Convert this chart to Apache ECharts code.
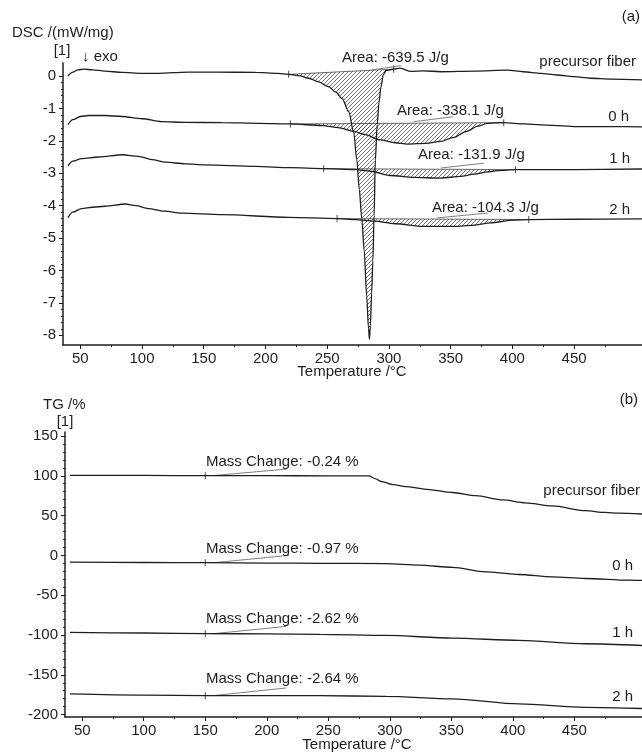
<!DOCTYPE html>
<html><head><meta charset="utf-8">
<script src="https://cdn.jsdelivr.net/npm/echarts@6/dist/echarts.min.js"></script>
<style>html,body{margin:0;padding:0;background:#fff}#c{width:642px;height:754px}</style>
</head><body><div id="c"></div><script>
// ---------- tick labels ----------
const xTickLabels = [50, 100, 150, 200, 250, 300, 350, 400, 450];
const xMinorTicks = [75, 125, 175, 225, 275, 325, 375, 425, 475];
const dscTickLabels = [-8, -7, -6, -5, -4, -3, -2, -1, 0];
const tgTickLabels = [-200, -150, -100, -50, 0, 50, 100, 150];

// ---------- DSC curves [temperature, mW/mg] ----------
const dscPrecursor = [[40,0.0],[44,0.12],[48,0.19],[53,0.21],[60,0.19],[70,0.15],[84,0.11],[100,0.08],[111,0.08],[125,0.1],[138,0.12],[160,0.12],[192,0.11],[210,0.08],[218.8,0.05],[228,0.0],[235,-0.07],[243,-0.18],[251,-0.33],[257,-0.5],[262,-0.69],[267.4,-1.1],[271.5,-1.75],[274,-2.6],[276,-3.5],[278,-4.4],[280,-5.4],[282,-6.8],[283.5,-7.8],[284.2,-8.12],[285,-7.7],[286,-6.7],[287,-5.7],[288,-4.3],[289,-2.6],[290.5,-1.5],[292,-0.8],[293.5,-0.35],[295.5,0.05],[298,0.17],[303.8,0.21],[309,0.24],[318,0.14],[328,0.16],[342,0.13],[369,0.15],[396,0.18],[409,0.13],[423,0.08],[436,0.03],[450,-0.02],[463,-0.07],[480,-0.1],[505,-0.12]];
const dsc0h = [[40,-1.5],[44,-1.35],[50,-1.25],[57,-1.22],[70,-1.22],[84,-1.25],[100,-1.32],[116,-1.41],[135,-1.43],[165,-1.44],[195,-1.46],[220.2,-1.48],[246,-1.53],[260,-1.6],[271.5,-1.71],[280,-1.8],[293,-1.97],[305,-2.06],[315,-2.1],[330,-2.08],[342,-2.02],[352,-1.9],[363,-1.71],[372,-1.55],[380,-1.46],[393,-1.44],[410,-1.48],[423,-1.51],[450,-1.56],[480,-1.56],[505,-1.57]];
const dsc1h = [[40,-2.77],[44,-2.63],[51,-2.55],[65,-2.5],[84,-2.43],[97,-2.48],[108,-2.58],[119,-2.66],[135,-2.71],[151,-2.74],[192,-2.79],[220,-2.83],[247.2,-2.86],[273,-2.89],[285,-2.94],[301,-3.07],[320,-3.13],[342,-3.15],[358,-3.1],[369,-3.03],[380,-2.96],[388,-2.92],[402.5,-2.89],[450,-2.89],[505,-2.87]];
const dsc2h = [[40,-4.37],[44,-4.2],[51,-4.09],[60,-4.05],[70,-4.02],[86.5,-3.95],[95,-4.0],[105,-4.09],[118,-4.17],[132,-4.23],[165,-4.28],[219,-4.36],[258,-4.4],[273,-4.43],[288,-4.48],[305,-4.56],[328,-4.64],[355,-4.64],[370,-4.6],[382,-4.53],[401,-4.45],[413.3,-4.43],[450,-4.42],[505,-4.41]];
// integration limits (temperature) for the hatched peak areas
const limPrecursor = [218.8, 303.8];
const lim0h = [220.2, 393];
const lim1h = [247.2, 402.5];
const lim2h = [258, 413.3];

// ---------- TG curves [temperature, %] ----------
const tgPrecursor = [[40,100.6],[100,100.4],[150,100.2],[200,100.1],[250,100.0],[283,100.0],[288,96.5],[293,92.8],[303,89],[313,86.5],[330,83],[351,79],[370,75],[392,69.7],[410,66],[432,62.2],[459,56.2],[475,54],[486,53],[505,52]];
const tg0h = [[40,-8.5],[100,-8.9],[150,-9.2],[200,-9.6],[243,-10.0],[297,-10.3],[324,-12.2],[351,-15.1],[378,-20.7],[405,-24],[432,-27],[459,-29],[494,-31.1],[505,-31.5]];
const tg1h = [[40,-96.8],[100,-97.5],[150,-98.2],[200,-98.7],[243,-99.2],[297,-100.5],[351,-103.9],[405,-106.8],[459,-111],[505,-113.2]];
const tg2h = [[40,-174],[100,-175.5],[150,-176.2],[243,-176.2],[297,-177],[351,-180.3],[405,-186.6],[459,-190.9],[505,-192.3]];
const tgTickT = 150;

// ---------- helpers ----------
const FONT = '15px "Liberation Sans", Arial, sans-serif';
const INK = '#1e1e1e';
function minorBetween(vals, step) {
  const out = [];
  for (let i = 0; i < vals.length - 1; i++) {
    for (let v = vals[i] + step; v < vals[i + 1] - step / 2; v += step) out.push(+v.toFixed(4));
  }
  return out;
}
const dscMinor = minorBetween(dscTickLabels, 0.2);
const tgMinor = minorBetween(tgTickLabels, 10);

function yAt(data, t) {
  const p = data.find(d => Math.abs(d[0] - t) < 1e-9);
  return p ? p[1] : null;
}
function region(data, lim) {
  return data.filter(d => d[0] >= lim[0] - 1e-9 && d[0] <= lim[1] + 1e-9);
}

// hatch pattern
const hc = document.createElement('canvas');
hc.width = 4; hc.height = 4;
const hx = hc.getContext('2d');
hx.strokeStyle = '#3a3a3a'; hx.lineWidth = 0.7;
hx.beginPath();
hx.moveTo(0, 4); hx.lineTo(4, 0);
hx.moveTo(-1, 1); hx.lineTo(1, -1);
hx.moveTo(3, 5); hx.lineTo(5, 3);
hx.stroke();
const hatch = { image: hc, repeat: 'repeat' };

function xAxes(grid) {
  return [
    { gridIndex: grid, type: 'value', min: 36, max: 505, position: 'bottom',
      axisLine: { onZero: false, lineStyle: { color: INK, width: 1.5 } },
      axisTick: { customValues: xTickLabels, length: 4, lineStyle: { color: INK } },
      axisLabel: { customValues: xTickLabels, color: INK, fontSize: 15, fontFamily: 'Liberation Sans', margin: 6 },
      splitLine: { show: false } },
    { gridIndex: grid, type: 'value', min: 36, max: 505, position: 'bottom', offset: 0,
      axisLine: { show: false, onZero: false },
      axisTick: { customValues: xMinorTicks, length: 2, lineStyle: { color: INK } },
      axisLabel: { show: false }, splitLine: { show: false } }
  ];
}
function yAxes(grid, min, max, labels, minor) {
  return [
    { gridIndex: grid, type: 'value', min, max, position: 'left',
      axisLine: { show: true, onZero: false, lineStyle: { color: INK, width: 1.5 } },
      axisTick: { show: true, customValues: labels, length: 4, lineStyle: { color: INK } },
      axisLabel: { customValues: labels, color: INK, fontSize: 15, fontFamily: 'Liberation Sans', margin: 7 },
      splitLine: { show: false } },
    { gridIndex: grid, type: 'value', min, max, position: 'left', offset: 0,
      axisLine: { show: false, onZero: false },
      axisTick: { show: true, customValues: minor, length: 2, lineStyle: { color: INK } },
      axisLabel: { show: false }, splitLine: { show: false } }
  ];
}

function curve(data, xi, yi) {
  return { type: 'line', xAxisIndex: xi, yAxisIndex: yi, data, showSymbol: false, smooth: 0.3, smoothMonotone: 'x',
    lineStyle: { color: INK, width: 1.3 }, z: 4, silent: true };
}
function thinLine(data, xi, yi, color, w) {
  return { type: 'line', xAxisIndex: xi, yAxisIndex: yi, data, showSymbol: false,
    lineStyle: { color, width: w }, z: 3, silent: true };
}
function tickMarks(data, xi, yi) {
  return { type: 'scatter', xAxisIndex: xi, yAxisIndex: yi, data, symbol: 'rect', symbolSize: [1, 7],
    itemStyle: { color: INK }, z: 5, silent: true };
}
function hatchSeries(regions, xi, yi) {
  return { type: 'custom', xAxisIndex: xi, yAxisIndex: yi, z: 2, silent: true,
    data: regions.map((r, i) => [r[0][0], r[0][1], i]),
    renderItem(params, api) {
      const r = regions[params.dataIndex];
      return { type: 'polygon', shape: { points: r.map(p => api.coord(p)) }, style: { fill: hatch, stroke: null } };
    } };
}

const dscCurves = [[dscPrecursor, limPrecursor], [dsc0h, lim0h], [dsc1h, lim1h], [dsc2h, lim2h]];
const series = [];
const dscRegions = dscCurves.map(([d, l]) => region(d, l));
series.push(hatchSeries(dscRegions, 0, 0));
dscCurves.forEach(([d, l]) => {
  series.push(thinLine([[l[0], yAt(d, l[0])], [l[1], yAt(d, l[1])]], 0, 0, '#444', 0.8));
  series.push(curve(d, 0, 0));
  series.push(tickMarks([[l[0], yAt(d, l[0])], [l[1], yAt(d, l[1])]], 0, 0));
});
// leader lines (annotation connectors)
const dscLeaders = [[[285, 0.18], [310, 0.32]], [[320, -1.41], [352, -1.26]], [[342, -2.84], [377, -2.69]], [[339, -4.38], [380, -4.23]]];
dscLeaders.forEach(l => series.push(thinLine(l, 0, 0, '#808080', 1)));

const tgCurves = [tgPrecursor, tg0h, tg1h, tg2h];
tgCurves.forEach(d => {
  series.push(curve(d, 2, 2));
  series.push(tickMarks([[tgTickT, yAt(d, tgTickT)]], 2, 2));
});
const tgLeaders = [[[156, 100.2], [216, 108.4]], [[156, -9.3], [218, 0]], [[156, -98.4], [216, -89.2]], [[156, -176.2], [216, -166.5]]];
tgLeaders.forEach(l => series.push(thinLine(l, 2, 2, '#808080', 1)));

// ---------- text annotations (pixel placement) ----------
const texts = [
  ['DSC /(mW/mg)', 12, 33, 'left'],
  ['[1]', 62, 51, 'center'],
  ['\u2193 exo', 82, 57, 'left'],
  ['(a)', 640, 17, 'right'],
  ['Temperature /\u00B0C', 352, 372, 'center'],
  ['Area: -639.5 J/g', 342, 58, 'left'],
  ['Area: -338.1 J/g', 397, 111, 'left'],
  ['Area: -131.9 J/g', 418, 155, 'left'],
  ['Area: -104.3 J/g', 432, 208, 'left'],
  ['precursor fiber', 636, 62, 'right'],
  ['0 h', 629, 117, 'right'],
  ['1 h', 630, 159, 'right'],
  ['2 h', 630, 210, 'right'],
  ['TG /%', 43, 405, 'left'],
  ['[1]', 65, 422, 'center'],
  ['(b)', 638, 400, 'right'],
  ['Temperature /\u00B0C', 357, 745, 'center'],
  ['Mass Change: -0.24 %', 206, 462, 'left'],
  ['Mass Change: -0.97 %', 206, 549, 'left'],
  ['Mass Change: -2.62 %', 206, 619, 'left'],
  ['Mass Change: -2.64 %', 206, 679, 'left'],
  ['precursor fiber', 640, 491, 'right'],
  ['0 h', 633, 566, 'right'],
  ['1 h', 633, 633, 'right'],
  ['2 h', 633, 697, 'right']
];
const graphic = texts.map(([t, x, y, a]) => ({
  type: 'text', x, y, silent: true, z: 10,
  style: { text: t, font: FONT, fill: INK, align: a, textAlign: a, verticalAlign: 'middle', textVerticalAlign: 'middle' }
}));

const chart = echarts.init(document.getElementById('c'), null, { renderer: 'canvas' });
chart.setOption({
  animation: false,
  backgroundColor: '#fff',
  textStyle: { fontFamily: 'Liberation Sans' },
  grid: [
    { left: 63, right: 0, top: 63, height: 282 },
    { left: 65, right: 0, top: 432, height: 285 }
  ],
  xAxis: [...xAxes(0), ...xAxes(1)],
  yAxis: [...yAxes(0, -8.3, 0.4, dscTickLabels, dscMinor), ...yAxes(1, -203, 155, tgTickLabels, tgMinor)],
  series,
  graphic
});
</script></body></html>
